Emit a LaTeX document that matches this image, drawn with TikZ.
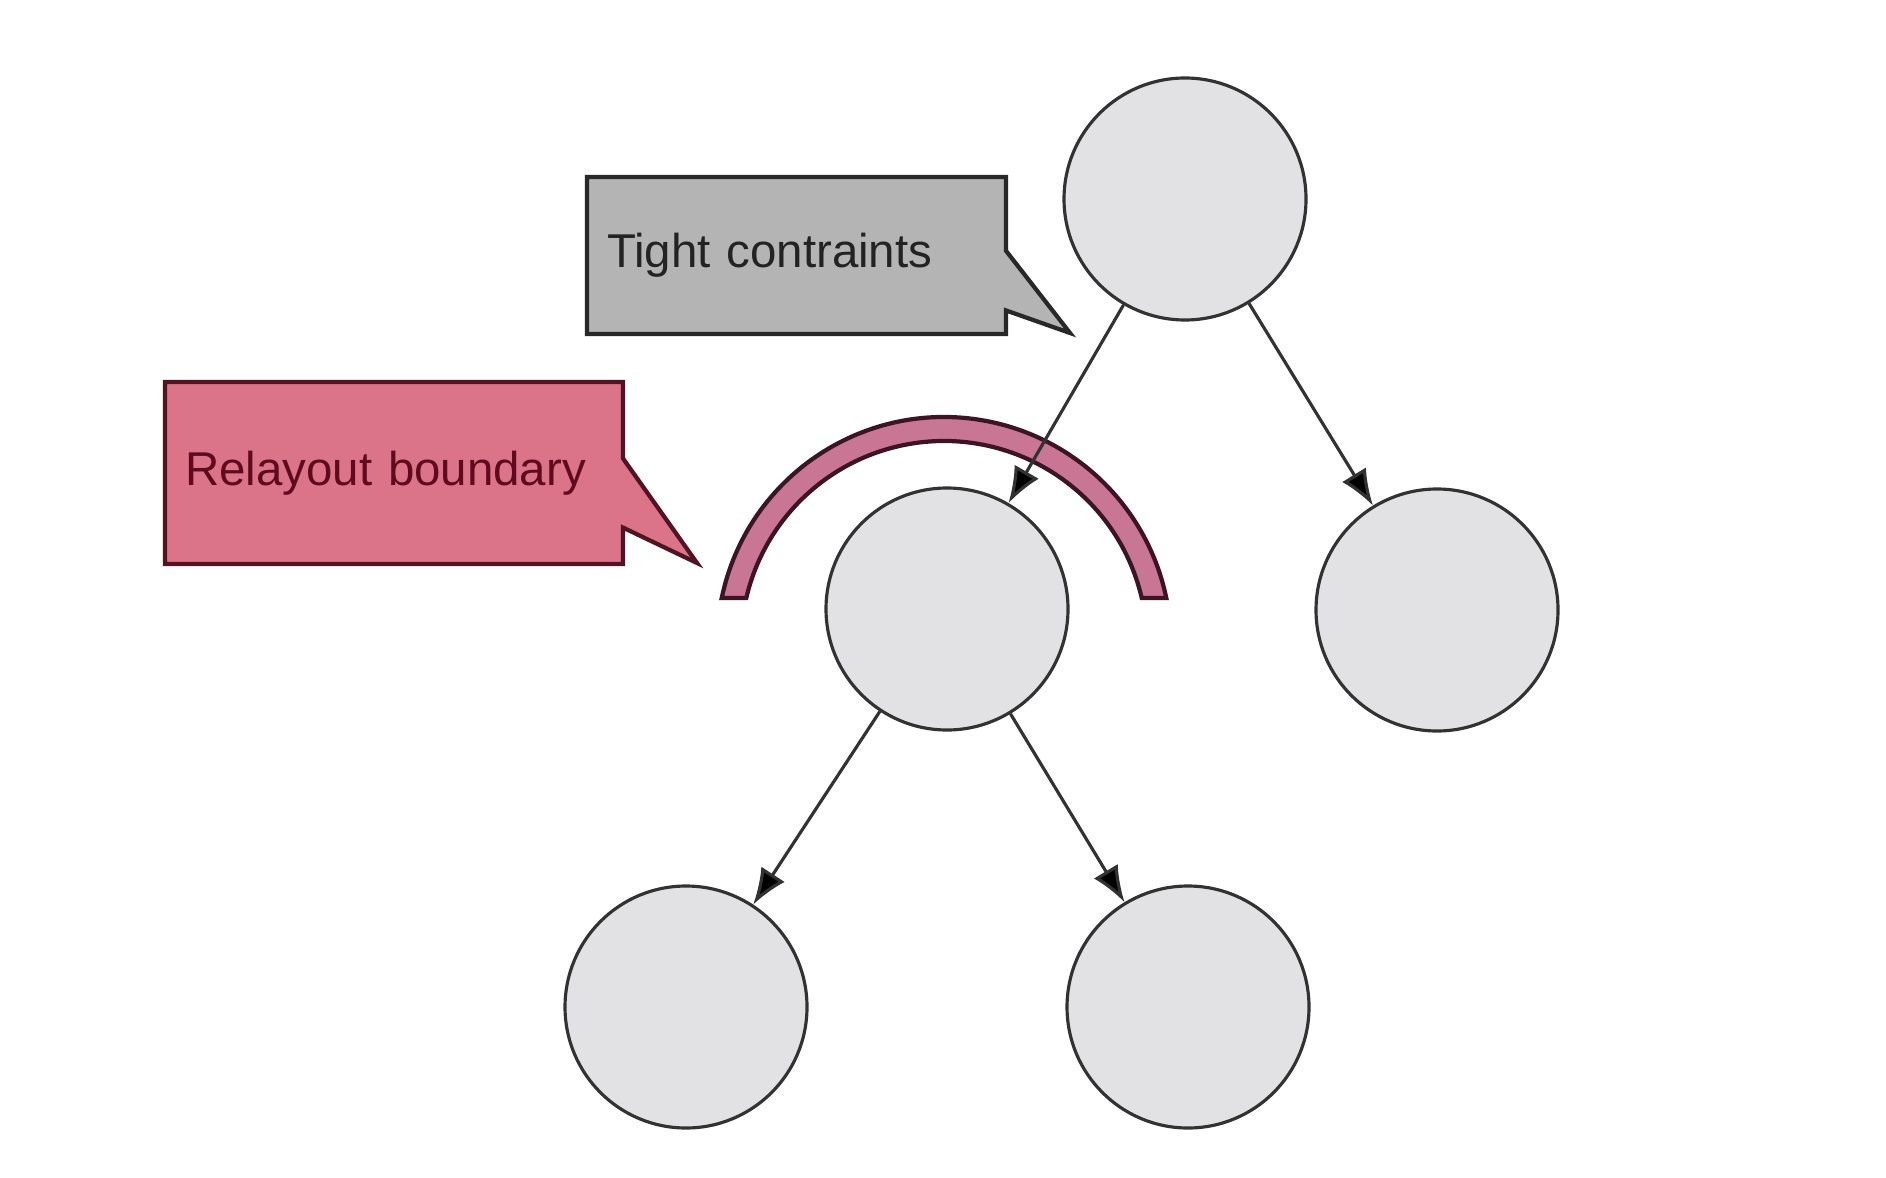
\documentclass[tikz,border=0pt]{standalone}
\usepackage{fontspec}
\setmainfont{Liberation Sans}
\usepackage{tikz}
\usetikzlibrary{arrows.meta,calc,positioning,backgrounds}
\definecolor{nodefill}{RGB}{226,226,228}
\definecolor{nodeline}{RGB}{50,50,50}
\definecolor{tightfill}{RGB}{180,180,180}
\definecolor{tightline}{RGB}{40,40,40}
\definecolor{tighttext}{RGB}{35,35,35}
\definecolor{relayfill}{RGB}{219,116,136}
\definecolor{relayline}{RGB}{80,20,35}
\definecolor{relaytext}{RGB}{95,10,30}
\definecolor{arcfill}{RGB}{200,118,148}
\definecolor{arcline}{RGB}{60,20,35}
\tikzstyle{widget} = [circle, minimum size=2.42cm, inner sep=0pt, draw=nodeline, fill=nodefill]
\tikzstyle{callout} = [rectangle, inner xsep=0.2cm, inner ysep=0pt, outer sep=0pt, align=left, font=\fontsize{13.5}{16}\selectfont]
\tikzstyle{bubble} = [-, line width=1.2pt, line join=miter]

\begin{document}
\begin{tikzpicture}[->,>={Latex[length=3.6mm,width=2.8mm]},line width=0.9pt,on grid]
        \useasboundingbox (0,0) rectangle (18.86,11.77);

        \node[widget] (Root) at (11.85,9.78) {};
        \node[widget] (Child1) [below left=4.10cm and 2.38cm of Root] {};
        \node[widget] (Child2) [below right=4.11cm and 2.52cm of Root] {};
        \node[widget] (Grand1) [below left=3.98cm and 2.61cm of Child1] {};
        \node[widget] (Grand2) [below right=3.98cm and 2.41cm of Child1] {};

        \node[callout, text width=3.79cm, minimum height=1.57cm, text=tighttext] (Tight) at (7.965,9.215) {Tight contraints};
        \node[callout, text width=4.18cm, minimum height=1.82cm, text=relaytext] (Relayout) at (3.94,7.04) {Relayout boundary};

        \coordinate (TightTip) at (10.70,8.44);
        \coordinate (RelayTip) at (6.97,6.14);
        \coordinate (ArcC) at ($(Child1)+(-0.03,-0.35)$);

        \begin{scope}[on background layer]
        \draw[bubble, draw=tightline, fill=tightfill] (Tight.north west) -- (Tight.north east)
            -- ($(Tight.north east)!0.47!(Tight.south east)$) -- (TightTip)
            -- ($(Tight.north east)!0.85!(Tight.south east)$) -- (Tight.south east)
            -- (Tight.south west) -- cycle;
        \draw[bubble, draw=relayline, fill=relayfill] (Relayout.north west) -- (Relayout.north east)
            -- ($(Relayout.north east)!0.42!(Relayout.south east)$) -- (RelayTip)
            -- ($(Relayout.north east)!0.80!(Relayout.south east)$) -- (Relayout.south east)
            -- (Relayout.south west) -- cycle;
        \end{scope}

        % relayout boundary band
        \draw[bubble, draw=arcline, fill=arcfill] ($(ArcC)+(168.3:2.27)$) arc[start angle=168.3, end angle=11.7, radius=2.27]
            -- ($(ArcC)+(13.1:2.03)$) arc[start angle=13.1, end angle=166.9, radius=2.03] -- cycle;

        \foreach \x in {Child1,Child2}
        \path[draw=nodeline] (Root) edge (\x);
        \foreach \x in {Grand1,Grand2}
        \path[draw=nodeline] (Child1) edge (\x);

\end{tikzpicture}
\end{document}
